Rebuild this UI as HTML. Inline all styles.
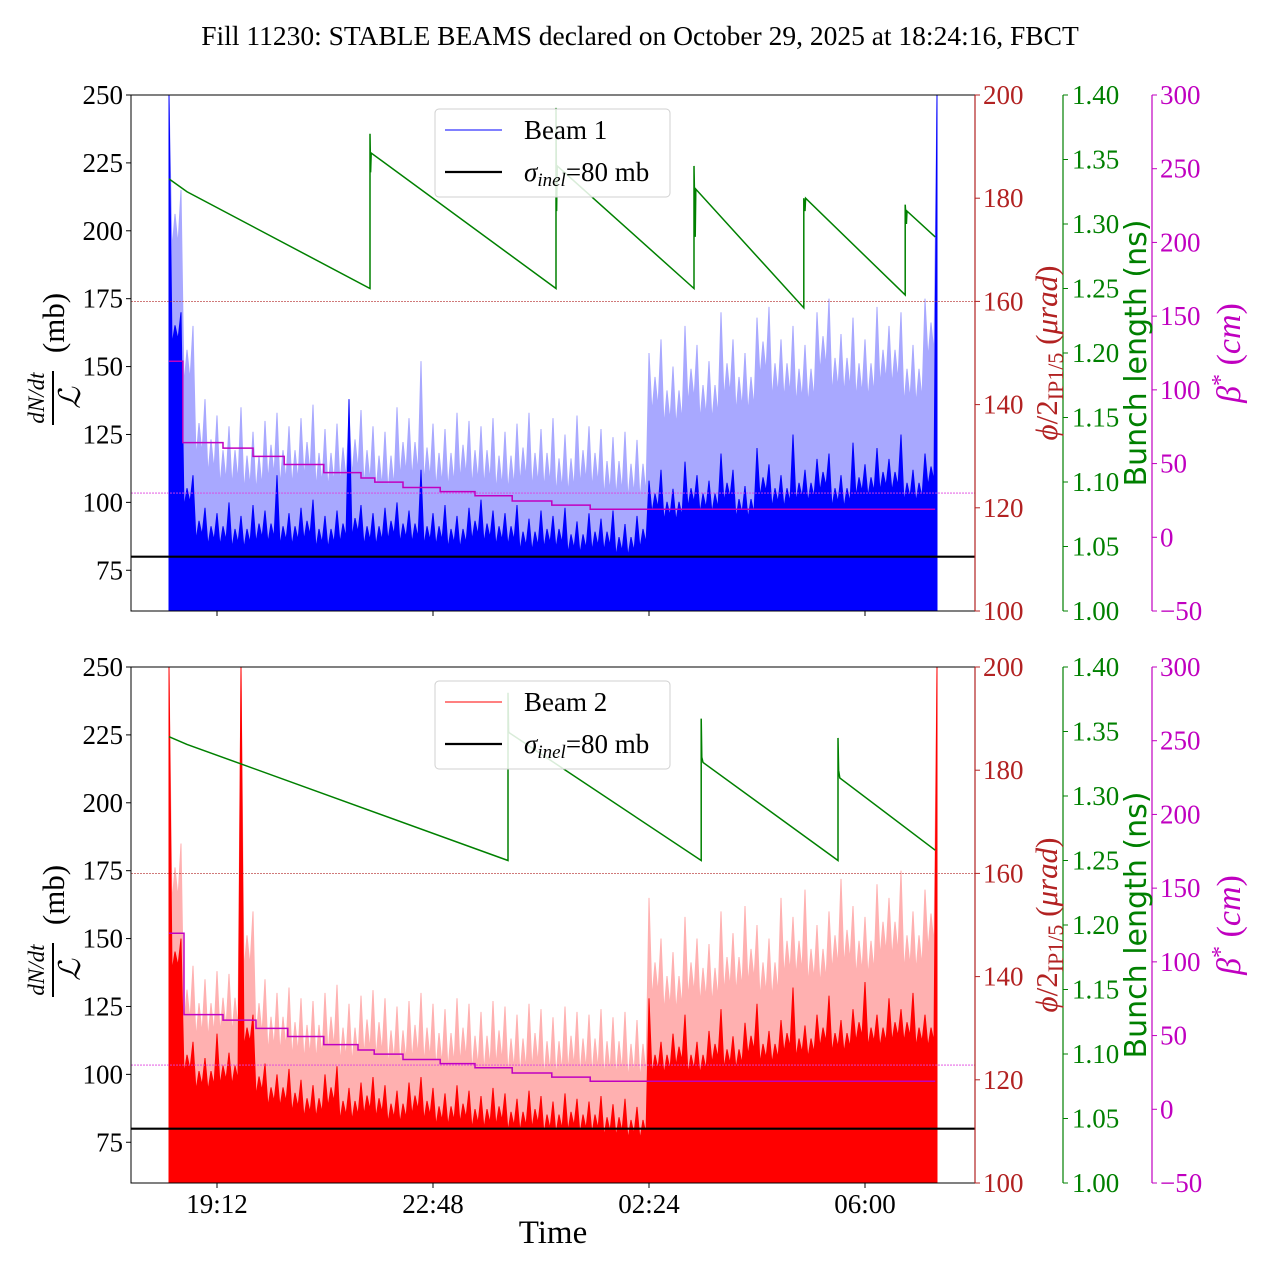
<!DOCTYPE html>
<html><head><meta charset="utf-8">
<style>
html,body{margin:0;padding:0;background:#fff;}
svg{display:block;font-family:"Liberation Serif","DejaVu Serif",serif;}
</style></head>
<body>
<svg id="chart" width="1280" height="1280" viewBox="0 0 1280 1280" xmlns="http://www.w3.org/2000/svg">
<rect width="1280" height="1280" fill="#fff"/>
<text x="640" y="45" font-size="27.5" text-anchor="middle">Fill 11230: STABLE BEAMS declared on October 29, 2025 at 18:24:16, FBCT</text>
<g id="top"></g>
<g id="bot"></g>
<text x="553" y="1243" font-size="33" text-anchor="middle">Time</text>
</svg>
<script>
// ---- data ----
const sampleStep = 0.2; // hours between samples, starting at 18:24
const beam1Light = [250,215,165,138,132,128,135,126,130,133,128,131,136,127,129,132,134,128,126,135,131,152,129,127,133,130,128,131,126,129,133,127,131,125,132,128,127,124,126,123,155,160,150,165,158,152,170,160,155,168,172,160,165,158,170,175,162,168,160,172,165,170,158,175,250];
const beam1Dark = [250,170,110,98,96,100,95,99,97,110,96,98,101,95,97,138,99,96,98,100,97,112,96,99,95,98,101,97,96,99,94,97,95,98,93,96,94,97,92,95,108,112,105,115,110,108,118,112,106,120,114,110,125,112,116,118,110,122,114,120,116,125,112,118,250];
const beam2Light = [250,185,140,135,138,137,250,160,135,130,132,128,127,130,133,126,129,131,128,125,127,130,126,124,128,126,123,127,125,122,126,124,121,125,123,122,124,121,123,120,165,150,145,158,150,148,160,152,162,155,150,165,158,168,155,160,172,162,158,170,165,175,160,168,250];
const beam2Dark = [250,150,112,106,115,108,250,122,104,100,102,98,96,100,103,95,97,99,96,94,97,99,95,93,96,94,92,95,93,91,94,92,90,93,91,90,92,89,91,88,128,112,115,122,112,116,124,114,119,126,116,120,132,118,122,129,120,124,134,122,128,124,130,122,250];
const betaTimes1 = [0,0.23,0.9,1.4,1.92,2.58,3.2,3.43,3.9,4.52,5.1,5.72,6.38,7.02,12.77];
const betaValues1 = [119.4,64.2,60.5,54.9,49.4,43.9,40.2,37.4,33.8,31,28.2,24.6,21.8,19];
const betaTimes2 = [0,0.25,0.9,1.45,1.98,2.58,3.15,3.42,3.9,4.52,5.1,5.72,6.38,7.02,12.77];
const betaValues2 = [119.4,64.2,60.5,54.9,49.4,43.9,40.2,37.4,33.8,31,28.2,24.6,21.8,19];
const bunchTimes1 = [0,0.3,3.35,3.35,3.36,3.37,6.45,6.45,6.46,6.47,8.75,8.75,8.77,8.78,10.58,10.58,10.6,10.61,12.27,12.27,12.29,12.3,12.77];
const bunchValues1 = [1.335,1.325,1.25,1.37,1.34,1.355,1.25,1.39,1.31,1.345,1.25,1.345,1.29,1.327,1.235,1.32,1.31,1.32,1.245,1.315,1.30,1.31,1.29];
const bunchTimes2 = [0,0.3,5.65,5.65,5.66,5.67,8.87,8.87,8.88,8.9,11.15,11.15,11.16,11.18,12.77];
const bunchValues2 = [1.346,1.34,1.25,1.38,1.35,1.349,1.25,1.36,1.33,1.326,1.25,1.345,1.32,1.314,1.258];
const leftTicks = [75,100,125,150,175,200,225,250];
const redTicks = [100,120,140,160,180,200];
const greenTicks = ["1.00","1.05","1.10","1.15","1.20","1.25","1.30","1.35","1.40"];
const betaTicks = [-50,0,50,100,150,200,250,300];
const timeTickHours = [0.8,4.4,8.0,11.6];
const timeTickLabels = ["19:12","22:48","02:24","06:00"];
const sigmaInel = 80;
const redGuide = 160;
const betaGuide = 30;

// ---- layout ----
const NS = "http://www.w3.org/2000/svg";
const X0 = 131, X1 = 975, TSTART = 169, PXH = 60;
const FS = 27;
const xS = t => TSTART + PXH * t;
function mk(parent, tag, attrs) {
  const e = document.createElementNS(NS, tag);
  for (const k in attrs) e.setAttribute(k, attrs[k]);
  parent.appendChild(e);
  return e;
}
function panel(g, top, light, dark, col, lightCol, bT, bV, gT, gV, legendLabel, showX) {
  const bottom = top + 516;
  const yL = v => bottom - (v - 60) * 516 / 190;
  const yR = v => bottom - (v - 100) * 516 / 100;
  const yG = v => bottom - (v - 1.0) * 516 / 0.4;
  const yB = v => bottom - (v + 50) * 516 / 350;
  const clip = mk(g, 'clipPath', {id: 'clip' + top});
  mk(clip, 'rect', {x: X0, y: top, width: X1 - X0, height: 516});
  const pg = mk(g, 'g', {'clip-path': `url(#clip${top})`});
  function series(arr, fill, dip, name) {
    let pts = [`${xS(0)},${bottom}`];
    for (let i = 0; i < arr.length; i++) {
      const x = xS(i * sampleStep);
      pts.push(`${x},${yL(arr[i])}`);
      if (i < arr.length - 1) {
        const m = Math.min(arr[i], arr[i + 1]) - dip;
        pts.push(`${x + 3},${yL(m)}`);
        pts.push(`${x + 6},${yL(m + dip * 0.6)}`);
        pts.push(`${x + 9},${yL(m + 2)}`);
      }
    }
    pts.push(`${xS((arr.length - 1) * sampleStep)},${bottom}`);
    const p = mk(pg, 'polygon', {points: pts.join(' '), fill: fill, stroke: fill, 'stroke-width': 1});
    
    
  }
  series(light, lightCol, 22, 'bunch-spread-series');
  series(dark, col, 12, 'mean-series');
  const rg = mk(pg, 'line', {x1: X0, x2: X1, y1: yR(redGuide), y2: yR(redGuide), stroke: '#b22222', 'stroke-width': 0.8, 'stroke-dasharray': '2,1', opacity: 0.8});
  
  
  const bg = mk(pg, 'line', {x1: X0, x2: X1, y1: yB(betaGuide), y2: yB(betaGuide), stroke: '#e040e0', 'stroke-width': 0.8, 'stroke-dasharray': '2,1'});
  
  
  let d = '';
  for (let i = 0; i < bV.length; i++) {
    d += (i ? 'L' : 'M') + xS(bT[i]) + ',' + yB(bV[i]) + 'L' + xS(bT[i + 1]) + ',' + yB(bV[i]);
  }
  const bp = mk(pg, 'path', {d: d, fill: 'none', stroke: '#c000c0', 'stroke-width': 1.5});
  
  
  const gp = mk(pg, 'polyline', {points: gT.map((t, i) => xS(t) + ',' + yG(gV[i])).join(' '), fill: 'none', stroke: '#008000', 'stroke-width': 1.5});
  
  
  const sl = mk(pg, 'line', {x1: X0, x2: X1, y1: yL(sigmaInel), y2: yL(sigmaInel), stroke: '#000', 'stroke-width': 2.2});
  
  
  const fr = mk(g, 'rect', {x: X0, y: top, width: X1 - X0, height: 516, fill: 'none', stroke: '#000', 'stroke-width': 1});
  
  
  leftTicks.forEach(v => {
    mk(g, 'line', {x1: X0 - 5, x2: X0, y1: yL(v), y2: yL(v), stroke: '#000'});
    const t = mk(g, 'text', {x: X0 - 8, y: yL(v) + 9, 'font-size': FS, 'text-anchor': 'end'});
    t.textContent = v;
    
    
  });
  redTicks.forEach(v => {
    mk(g, 'line', {x1: X1, x2: X1 + 5, y1: yR(v), y2: yR(v), stroke: '#b22222'});
    const t = mk(g, 'text', {x: X1 + 8, y: yR(v) + 9, 'font-size': FS, fill: '#b22222'});
    t.textContent = v;
    
    
  });
  mk(g, 'line', {x1: X1, x2: X1, y1: top, y2: bottom, stroke: '#b22222', 'stroke-width': 1.2});
  const GX = 1063;
  mk(g, 'line', {x1: GX, x2: GX, y1: top, y2: bottom, stroke: '#008000', 'stroke-width': 1.2});
  greenTicks.forEach(s => {
    const v = parseFloat(s);
    mk(g, 'line', {x1: GX, x2: GX + 5, y1: yG(v), y2: yG(v), stroke: '#008000'});
    const t = mk(g, 'text', {x: GX + 9, y: yG(v) + 9, 'font-size': FS, fill: '#008000'});
    t.textContent = s;
    
    
  });
  const BX = 1152;
  mk(g, 'line', {x1: BX, x2: BX, y1: top, y2: bottom, stroke: '#c000c0', 'stroke-width': 1.2});
  betaTicks.forEach(v => {
    mk(g, 'line', {x1: BX, x2: BX + 5, y1: yB(v), y2: yB(v), stroke: '#c000c0'});
    const t = mk(g, 'text', {x: BX + 8, y: yB(v) + 9, 'font-size': FS, fill: '#c000c0'});
    t.textContent = v < 0 ? '\u2212' + (-v) : v;
    
    
  });
  timeTickHours.forEach((h, i) => {
    mk(g, 'line', {x1: xS(h), x2: xS(h), y1: bottom, y2: bottom + 5, stroke: '#000'});
    if (showX) {
      const t = mk(g, 'text', {x: xS(h), y: bottom + 30, 'font-size': FS, 'text-anchor': 'middle'});
      t.textContent = timeTickLabels[i];
      
      
    }
  });
  const mid = top + 258;
  const ll = mk(g, 'g', {transform: `translate(56,${mid}) rotate(-90)`});
  
  
  mk(ll, 'text', {x: -45, y: -12, 'font-size': 23, 'font-style': 'italic', 'text-anchor': 'middle'}).textContent = 'dN/dt';
  mk(ll, 'line', {x1: -72, x2: -18, y1: -3, y2: -3, stroke: '#000', 'stroke-width': 2});
  mk(ll, 'text', {x: -45, y: 24, 'font-size': 30, 'font-style': 'italic', 'text-anchor': 'middle'}).textContent = '\u2112';
  mk(ll, 'text', {x: 30, y: 8, 'font-size': 31, 'text-anchor': 'middle'}).textContent = '(mb)';
  const rl = mk(g, 'text', {transform: `translate(1057,${mid}) rotate(-90)`, 'font-size': 31, fill: '#b22222', 'text-anchor': 'middle'});
  rl.innerHTML = '<tspan font-style="italic">\u03d5</tspan>/2<tspan font-size="22" dy="6">IP1/5</tspan><tspan dy="-6"> (</tspan><tspan font-style="italic">\u03bcrad</tspan>)';
  
  
  const gl = mk(g, 'text', {transform: `translate(1146,${mid}) rotate(-90)`, 'font-size': 30, fill: '#008000', 'text-anchor': 'middle', 'font-family': '"DejaVu Sans","Liberation Sans",sans-serif'});
  gl.textContent = 'Bunch length (ns)';
  
  
  const bl = mk(g, 'text', {transform: `translate(1240,${mid}) rotate(-90)`, 'font-size': 34, fill: '#c000c0', 'text-anchor': 'middle'});
  bl.innerHTML = '<tspan font-style="italic">\u03b2</tspan><tspan dy="-12" font-size="24">*</tspan><tspan dy="12"> (</tspan><tspan font-style="italic">cm</tspan>)';
  
  
  const lg = mk(g, 'g', {});
  
  
  mk(lg, 'rect', {x: 435, y: top + 14, width: 235, height: 88, rx: 4, fill: '#fff', 'fill-opacity': 0.85, stroke: '#d0d0d0'});
  mk(lg, 'line', {x1: 445, x2: 502, y1: top + 35, y2: top + 35, stroke: col, 'stroke-width': 1});
  const l1 = mk(lg, 'text', {x: 524, y: top + 44, 'font-size': FS});
  l1.textContent = legendLabel;
  
  
  mk(lg, 'line', {x1: 445, x2: 502, y1: top + 77, y2: top + 77, stroke: '#000', 'stroke-width': 2.2});
  const l2 = mk(lg, 'text', {x: 524, y: top + 86, 'font-size': FS});
  l2.innerHTML = '<tspan font-style="italic">\u03c3</tspan><tspan font-style="italic" font-size="19" dy="5">inel</tspan><tspan dy="-5">=80 mb</tspan>';
  
  
}
panel(document.getElementById('top'), 95, beam1Light, beam1Dark, '#0000ff', '#a8a8ff', betaTimes1, betaValues1, bunchTimes1, bunchValues1, 'Beam 1', false);
panel(document.getElementById('bot'), 667, beam2Light, beam2Dark, '#ff0000', '#ffb0b0', betaTimes2, betaValues2, bunchTimes2, bunchValues2, 'Beam 2', true);
</script>
</body></html>
